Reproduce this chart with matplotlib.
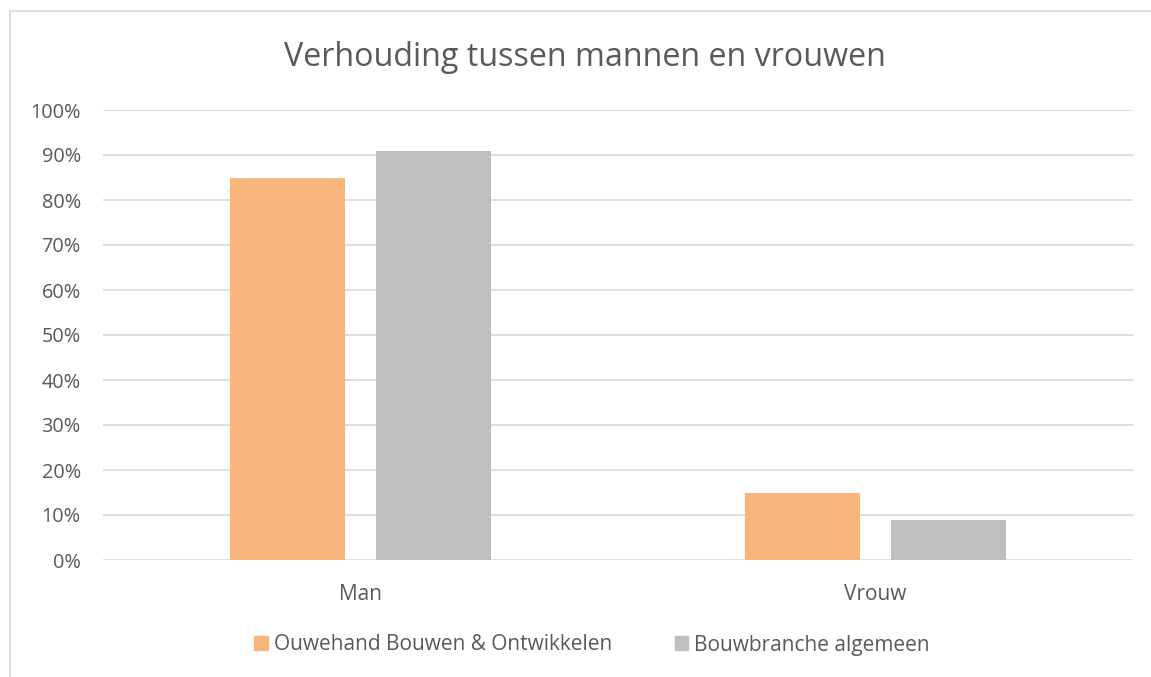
import matplotlib
matplotlib.use("Agg")
from matplotlib import pyplot as plt
from matplotlib.lines import Line2D
from matplotlib.patches import Patch
import numpy as np

# data
categories = ["Man", "Vrouw"]
ouwehand = [0.85, 0.15]
bouwbranche = [0.91, 0.09]
series_names = ["Ouwehand Bouwen & Ontwikkelen", "Bouwbranche algemeen"]
yticks = [0, 0.1, 0.2, 0.3, 0.4, 0.5, 0.6, 0.7, 0.8, 0.9, 1.0]

plt.rcParams['font.family'] = ['Open Sans', 'DejaVu Sans']
txt = "#595959"
orange = "#F8B67C"
grey = "#BFBFBF"

W, H = 1151, 677
fig = plt.figure(figsize=(W / 100, H / 100), dpi=100)

# outer chart border (only left and top edge visible in the crop)
fig.add_artist(Line2D([10 / W, 10 / W], [0, 1 - 11 / H], color="#d9d9d9", lw=1.2))
fig.add_artist(Line2D([10 / W, 1], [1 - 11 / H, 1 - 11 / H], color="#d9d9d9", lw=1.2))

ax = fig.add_axes([103 / W, (H - 560) / H, 1030 / W, 450 / H])
x = np.arange(len(categories))
w = 0.223
off = 0.1417
ax.bar(x - off, ouwehand, w, color=orange, zorder=3)
ax.bar(x + off, bouwbranche, w, color=grey, zorder=3)

ax.set_xlim(-0.5, 1.5)
ax.set_ylim(0, 1.0)
ax.set_yticks(yticks)
ax.set_yticklabels([f"{int(round(t * 100))}%" for t in yticks])
ax.set_xticks(x)
ax.set_xticklabels(categories)
ax.tick_params(length=0, colors=txt)
ax.tick_params(axis="y", pad=16, labelsize=14.3)
ax.tick_params(axis="x", pad=17, labelsize=15)
ax.grid(axis="y", color="#d9d9d9", lw=1.2, zorder=0)
for s in ax.spines.values():
    s.set_visible(False)

fig.text(585 / W, 1 - 57 / H, "Verhouding tussen mannen en vrouwen", ha="center", va="center",
         fontsize=23.2, color=txt)

handles = [Patch(color=orange), Patch(color=grey)]
fig.legend(handles, series_names, loc="center", bbox_to_anchor=(592 / W, 1 - 645 / H), ncol=2,
           frameon=False, fontsize=15, labelcolor=txt, handlelength=0.65, handleheight=0.65,
           handletextpad=0.3, columnspacing=3.0)

fig.savefig("out.png", dpi=100)
